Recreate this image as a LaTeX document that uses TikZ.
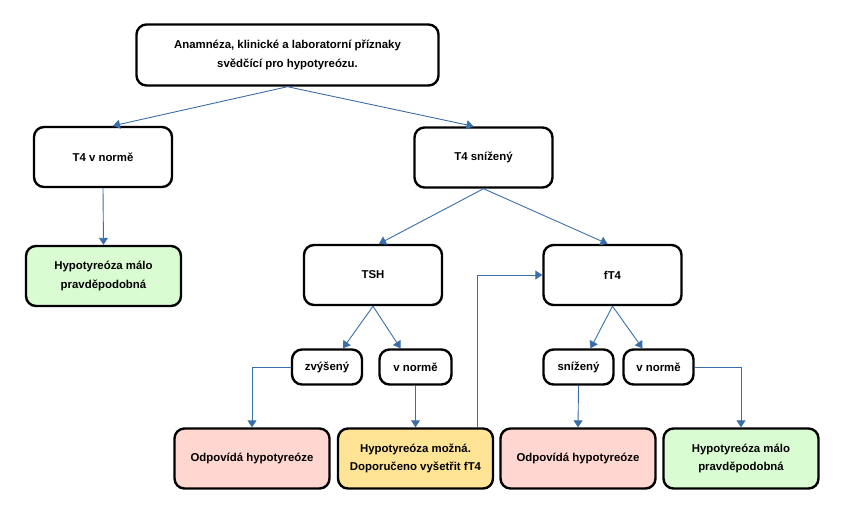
\documentclass[tikz,border=0pt]{standalone}
\usepackage{fontspec}
\setmainfont{Liberation Sans}
\usetikzlibrary{arrows.meta}

\definecolor{sipka}{RGB}{58,110,168}
\definecolor{zelena}{RGB}{218,252,210}
\definecolor{ruzova}{RGB}{255,214,208}
\definecolor{zluta}{RGB}{255,228,150}

\tikzset{
  krok/.style={draw=black,line width=2.4pt,rounded corners=10pt,fill=white,
    align=center,inner sep=2pt,font=\bfseries\fontsize{11.4}{18.5}\selectfont},
  velky/.style={krok,minimum width=138pt,minimum height=60pt},
  maly/.style={krok,minimum width=70pt,minimum height=35pt},
  vysledek/.style={krok,minimum width=155pt,minimum height=60pt},
  spoj/.style={draw=sipka,line width=0.9pt,-{Triangle[width=9pt,length=7pt]}}
}

\begin{document}
\begin{tikzpicture}[x=1pt,y=-1pt]
  \useasboundingbox (0,0) rectangle (845,515);

  % Úroveň 1
  \node[krok,minimum width=302pt,minimum height=61pt] (anam) at (287.5,55)
    {Anamnéza, klinické a laboratorní příznaky\\svědčící pro hypotyreózu.};

  % Úroveň 2
  \node[velky] (t4norma) at (103,157) {T4 v normě};
  \node[velky] (t4sniz) at (483.5,157.5) {T4 snížený};

  % Úroveň 3
  \node[vysledek,fill=zelena] (malo1) at (103.5,276) {Hypotyreóza málo\\pravděpodobná};
  \node[velky] (tsh) at (373,275) {TSH};
  \node[velky] (ft4) at (612.5,275) {fT4};

  % Úroveň 4
  \node[maly] (zvys) at (327,367) {zvýšený};
  \node[maly,minimum width=72pt] (norma1) at (415.5,367) {v normě};
  \node[maly] (sniz) at (578.5,367) {snížený};
  \node[maly] (norma2) at (658.5,367) {v normě};

  % Úroveň 5
  \node[vysledek,fill=ruzova] (odp1) at (252,458.5) {Odpovídá hypotyreóze};
  \node[vysledek,fill=zluta] (mozna) at (415.5,458.5) {Hypotyreóza možná.\\Doporučeno vyšetřit fT4};
  \node[vysledek,fill=ruzova] (odp2) at (578,458.5) {Odpovídá hypotyreóze};
  \node[vysledek,fill=zelena] (malo2) at (741,458.5) {Hypotyreóza málo\\pravděpodobná};

  % Spojnice
  \draw[spoj] (anam.south) -- ([xshift=10pt]t4norma.north);
  \draw[spoj] (anam.south) -- ([xshift=-10pt]t4sniz.north);
  \draw[spoj] (t4norma.south) -- (malo1.north);
  \draw[spoj] (t4sniz.south) -- ([xshift=6pt]tsh.north);
  \draw[spoj] (t4sniz.south) -- ([xshift=-5pt]ft4.north);
  \draw[spoj] (tsh.south) -- ([xshift=16pt]zvys.north);
  \draw[spoj] (tsh.south) -- ([xshift=-15pt]norma1.north);
  \draw[spoj] (ft4.south) -- ([xshift=12pt]sniz.north);
  \draw[spoj] (ft4.south) -- ([xshift=-16pt]norma2.north);
  \draw[spoj] (zvys.west) -| (odp1.north);
  \draw[spoj] (norma1.south) -- (mozna.north);
  \draw[spoj] (sniz.south) -- (odp2.north);
  \draw[spoj] (norma2.east) -| (malo2.north);
  \draw[spoj] ([xshift=62pt]mozna.north) |- (ft4.west);
\end{tikzpicture}
\end{document}
